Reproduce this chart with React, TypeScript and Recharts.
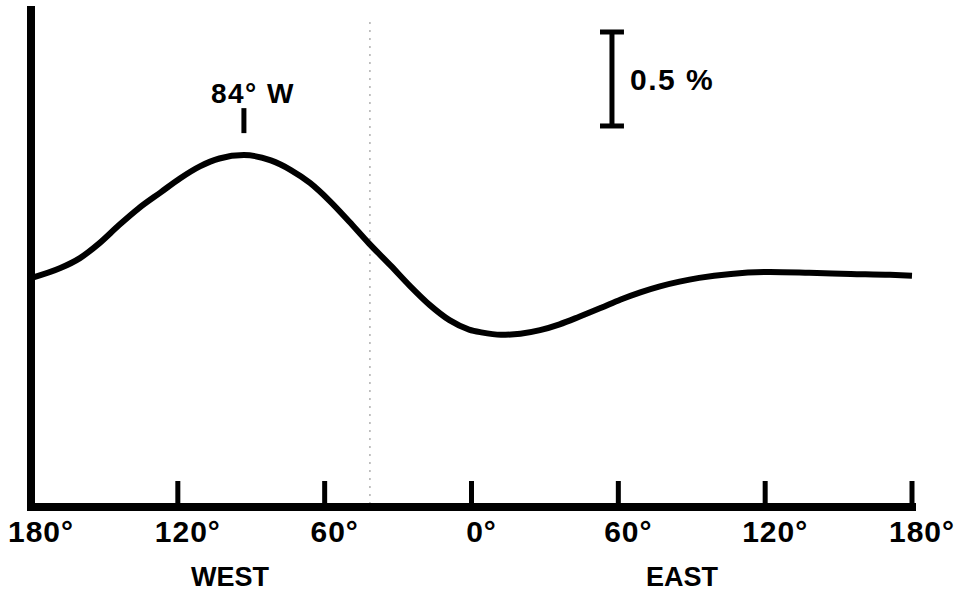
import React from 'react';
import {
    LineChart,
    Line,
    XAxis,
    YAxis,
    ReferenceLine,
    ReferenceDot,
} from 'recharts';

// longitude in degrees (west negative), variation in percent
const longitudes = [
    -180, -168, -160, -152, -144, -136, -127, -119, -111, -103, -93, -82, -74, -66, -58, -50,
    -42, -33, -25, -17, -9, -1, 4, 12, 20, 28, 36, 44, 53, 61, 69, 77, 85, 93, 106, 122, 138,
    155, 171, 180,
];
const variation = [
    -0.016, 0.037, 0.09, 0.17, 0.266, 0.355, 0.44, 0.515, 0.578, 0.62, 0.638, 0.61, 0.56,
    0.49, 0.395, 0.285, 0.17, 0.05, -0.06, -0.16, -0.24, -0.29, -0.305, -0.318, -0.312,
    -0.293, -0.262, -0.222, -0.174, -0.13, -0.092, -0.06, -0.035, -0.015, 0.006, 0.016, 0.012,
    0.006, 0.001, -0.004,
];
const tickValues = [-180, -120, -60, 0, 60, 120, 180];

const peakLon = -93;
const dividerLon = -41.5;
const scaleBarLon = 57.4;
const scaleBarBottom = 0.793;
const scaleBarTop = 1.293; // 0.5 %

const chartData = longitudes.map((lon, i) => ({ lon, v: variation[i] }));

const FONT = '"Liberation Sans", Arial, sans-serif';

const AxisTick = (props: any) => {
    const { x, y, payload } = props;
    const val = payload.value;
    return (
        <g>
            {val !== -180 && <rect x={x - 2.5} y={y - 26} width={5} height={26} fill="#000" />}
            <text
                x={x + 10}
                y={y + 35}
                textAnchor="middle"
                fontFamily={FONT}
                fontWeight="bold"
                fontSize={30}
                letterSpacing={1}
                fill="#000"
            >
                {Math.abs(val)}°
            </text>
        </g>
    );
};

const SideLabel = (text: string) => (p: any) => (
    <text
        x={p.viewBox.x + p.viewBox.width / 2}
        y={p.viewBox.y + 80}
        textAnchor="middle"
        fontFamily={FONT}
        fontWeight="bold"
        fontSize={27}
        fill="#000"
    >
        {text}
    </text>
);

const App: React.FC = () => {
    return (
        <div style={{ position: 'absolute', left: 0, top: 0, background: '#fff' }}>
            <LineChart
                width={955}
                height={592}
                data={chartData}
                margin={{ top: 10, right: 43, left: 31, bottom: 25 }}
            >
                <XAxis
                    dataKey="lon"
                    type="number"
                    domain={[-180, 180]}
                    ticks={tickValues}
                    tick={<AxisTick />}
                    tickLine={false}
                    tickSize={0}
                    tickMargin={0}
                    height={60}
                    axisLine={{ stroke: '#000', strokeWidth: 8, strokeLinecap: 'square' }}
                />
                <YAxis type="number" domain={[-1.234, 1.41]} hide />
                <ReferenceLine x={-180} stroke="#000" strokeWidth={8} strokeLinecap="square" />
                <ReferenceLine
                    segment={[{ x: dividerLon, y: 1.346 }, { x: dividerLon, y: -1.234 }]}
                    stroke="#888"
                    strokeWidth={1}
                    strokeDasharray="2 6"
                />
                <Line
                    type="monotone"
                    dataKey="v"
                    stroke="#000"
                    strokeWidth={6}
                    dot={false}
                    isAnimationActive={false}
                />
                {/* 84° W marker */}
                <ReferenceLine
                    segment={[{ x: peakLon, y: 0.755 }, { x: peakLon, y: 0.888 }]}
                    stroke="#000"
                    strokeWidth={5}
                    label={(p: any) => (
                        <text
                            x={p.viewBox.x + 9}
                            y={p.viewBox.y - 5}
                            textAnchor="middle"
                            fontFamily={FONT}
                            fontWeight="bold"
                            fontSize={28}
                            letterSpacing={1.5}
                            fill="#000"
                        >
                            84° W
                        </text>
                    )}
                />
                {/* 0.5 % scale bar */}
                <ReferenceLine
                    segment={[{ x: scaleBarLon, y: scaleBarBottom }, { x: scaleBarLon, y: scaleBarTop }]}
                    stroke="#000"
                    strokeWidth={5}
                    label={(p: any) => (
                        <text
                            x={p.viewBox.x + 18}
                            y={p.viewBox.y + p.viewBox.height / 2 + 11}
                            fontFamily={FONT}
                            fontWeight="bold"
                            fontSize={30}
                            letterSpacing={1.5}
                            fill="#000"
                        >
                            0.5 %
                        </text>
                    )}
                />
                <ReferenceLine
                    segment={[{ x: scaleBarLon - 4.9, y: scaleBarTop }, { x: scaleBarLon + 4.9, y: scaleBarTop }]}
                    stroke="#000"
                    strokeWidth={5}
                />
                <ReferenceLine
                    segment={[{ x: scaleBarLon - 4.9, y: scaleBarBottom }, { x: scaleBarLon + 4.9, y: scaleBarBottom }]}
                    stroke="#000"
                    strokeWidth={5}
                />
                <ReferenceDot x={-98.7} y={-1.234} r={1} fill="none" stroke="none" label={SideLabel('WEST')} />
                <ReferenceDot x={86} y={-1.234} r={1} fill="none" stroke="none" label={SideLabel('EAST')} />
            </LineChart>
        </div>
    );
};

export default App;
